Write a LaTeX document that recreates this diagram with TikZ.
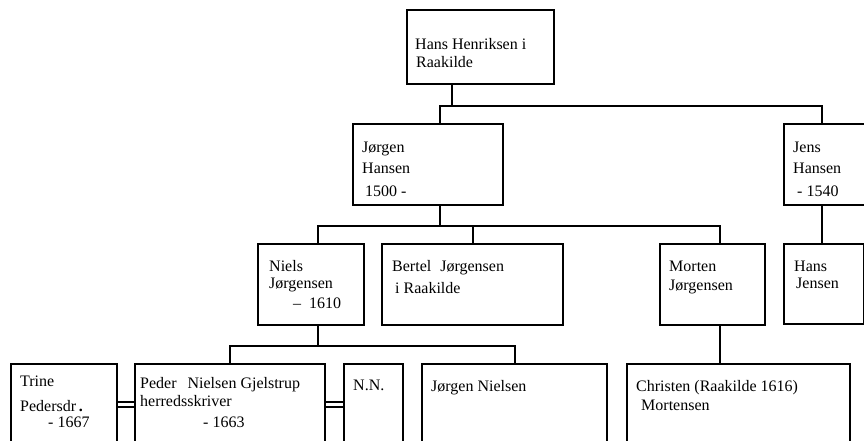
\documentclass[tikz,border=0pt]{standalone}
\usepackage{fontspec}
\setmainfont{Liberation Serif}

\tikzset{
    person/.style={draw, line width=2pt, rectangle, anchor=north west, inner sep=0pt},
    txt/.style={anchor=base west, inner sep=0pt, font=\fontsize{16}{19}\selectfont},
    link/.style={line width=2pt},
    wed/.style={double, line width=1.8pt, double distance=3.2pt}
}

\begin{document}
\begin{tikzpicture}[x=1pt, y=-1pt]

\useasboundingbox (0,0) rectangle (864,441);
\clip (0,0) rectangle (864,441);

% boxes
\node [person, minimum width=147pt, minimum height=74pt] (hh) at (406,9) {};
\node [person, minimum width=150pt, minimum height=81pt] (jh) at (352,123) {};
\node [person, minimum width=97pt, minimum height=81pt] (jens) at (783,123) {};
\node [person, minimum width=106pt, minimum height=81pt] (niels) at (257,243) {};
\node [person, minimum width=181pt, minimum height=81pt] (bertel) at (381,243) {};
\node [person, minimum width=105pt, minimum height=81pt] (morten) at (659,243) {};
\node [person, minimum width=80pt, minimum height=80pt] (hansj) at (783,243) {};
\node [person, minimum width=106pt, minimum height=100pt] (trine) at (10,363) {};
\node [person, minimum width=190pt, minimum height=100pt] (peder) at (134,363) {};
\node [person, minimum width=59pt, minimum height=100pt] (nn) at (343,363) {};
\node [person, minimum width=185pt, minimum height=100pt] (jn) at (421,363) {};
\node [person, minimum width=223pt, minimum height=100pt] (christen) at (626,363) {};

% names
\node [txt] (hh1) at (415,50) {Hans Henriksen i};
\node [txt] (hh2) at (416,68) {Raakilde};

\node [txt] (jh1) at (362,152) {Jørgen};
\node [txt] (jh2) at (362,173) {Hansen};
\node [txt] (jh3) at (365,196) {1500 -};

\node [txt] (jens1) at (793,152) {Jens};
\node [txt] (jens2) at (793,173) {Hansen};
\node [txt] (jens3) at (797,196) {- 1540};

\node [txt] (niels1) at (269,271) {Niels};
\node [txt] (niels2) at (269,288) {Jørgensen};
\node [txt] (niels3) at (293,308) {–\hspace{8pt}1610};

\node [txt] (bertel1) at (392,271) {Bertel\hspace{9pt}Jørgensen};
\node [txt] (bertel2) at (395,293) {i Raakilde};

\node [txt] (morten1) at (669,271) {Morten};
\node [txt] (morten2) at (669,290) {Jørgensen};

\node [txt] (hansj1) at (794,271) {Hans};
\node [txt] (hansj2) at (796,288) {Jensen};

\node [txt] (trine1) at (20,386) {Trine};
\node [txt] (trine2) at (20,411) {Pedersdr\,\textbf{.}};
\node [txt] (trine3) at (48,427) {- 1667};

\node [txt] (peder1) at (140,388) {Peder\hspace{11pt}Nielsen Gjelstrup};
\node [txt] (peder2) at (140,406) {herredsskriver};
\node [txt] (peder3) at (203,427) {- 1663};

\node [txt] (nn1) at (353,390) {N.N.};

\node [txt] (jn1) at (431,391) {Jørgen Nielsen};

\node [txt] (christen1) at (636,391) {Christen (Raakilde 1616)};
\node [txt] (christen2) at (641,410) {Mortensen};

% lines
\draw [link] ([xshift=-28.5pt]hh.south) -- ++(0,21) coordinate (b1);
\draw [link] (b1) -| ([xshift=12pt]jh.north);
\draw [link] (b1) -| ([xshift=-10.5pt]jens.north);

\draw [link] ([xshift=12pt]jh.south) -- ++(0,20) coordinate (b2);
\draw [link] (b2) -| ([xshift=7pt]niels.north);
\draw [link] (b2) -| (bertel.north);
\draw [link] (b2) -| ([xshift=7.5pt]morten.north);

\draw [link] ([xshift=-10.5pt]jens.south) -- ([xshift=-2pt]hansj.north);

\draw [link] ([xshift=7pt]niels.south) -- ++(0,20) coordinate (b3);
\draw [link] (b3) -| (peder.north);
\draw [link] (b3) -| (jn.north);

\draw [link] ([xshift=7.5pt]morten.south) -- ([xshift=-18.5pt]christen.north);

% marriages
\draw [wed] ([yshift=-41.5pt]trine.north east) -- ([yshift=-41.5pt]peder.north west);
\draw [wed] ([yshift=-41.5pt]peder.north east) -- ([yshift=-41.5pt]nn.north west);

\end{tikzpicture}
\end{document}
